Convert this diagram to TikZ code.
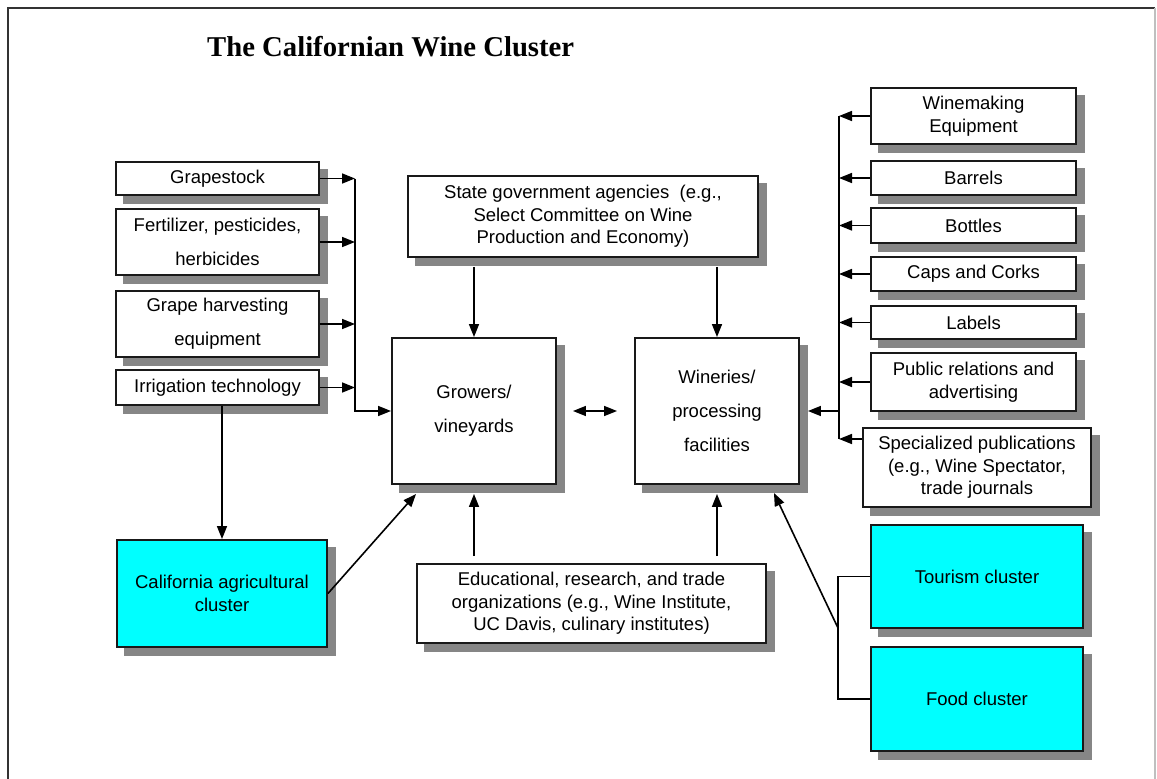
\documentclass[tikz,border=0pt]{standalone}
\usepackage{fontspec}
\setmainfont{Liberation Sans}
\newfontfamily\titlefont{Liberation Serif}
\usetikzlibrary{arrows.meta,calc,backgrounds}
\definecolor{shdw}{HTML}{868686}
\definecolor{clustercyan}{HTML}{00FFFF}
\begin{document}
\begin{tikzpicture}[x=1pt,y=-1pt,
  box/.style={draw=black!90, line width=1.9pt, fill=white, inner sep=0pt,
    align=center, font=\fontsize{18.5}{22.5}\selectfont},
  wide/.style={font=\fontsize{18.5}{34}\selectfont},
  cluster/.style={box, fill=clustercyan},
  link/.style={line width=1.6pt, black},
  arr/.style={link, -{Triangle[length=13pt,width=10pt]}},
  darr/.style={link, {Triangle[length=13pt,width=10pt]}-{Triangle[length=13pt,width=10pt]}},
]
\useasboundingbox (0,0) rectangle (1157,779);

% page frame
\draw[line width=2.2pt, black!80] (8,779) -- (8,8) -- (1155,8);
\draw[line width=1.5pt, black!25] (1155,8) -- (1155,779);

% title
\node[anchor=base west, inner sep=0pt,
  font=\titlefont\bfseries\fontsize{28.7}{30}\selectfont] (title) at (207,56)
  {The Californian Wine Cluster};

% supplier boxes on the growers' side
\node[box, minimum width=203pt, minimum height=33pt] (grape) at (217.5,178.5) {Grapestock};
\node[box, wide, minimum width=203pt, minimum height=66pt] (fert) at (217.5,242) {Fertilizer, pesticides,\\herbicides};
\node[box, wide, minimum width=203pt, minimum height=66pt] (harv) at (217.5,324) {Grape harvesting\\equipment};
\node[box, minimum width=203pt, minimum height=35pt] (irr) at (217.5,387.5) {Irrigation technology};

% core of the cluster
\node[box, minimum width=350pt, minimum height=81pt] (state) at (583,216.5)
  {State government agencies \ (e.g.,\\Select Committee on Wine\\Production and Economy)};
\node[box, wide, minimum width=164pt, minimum height=146pt] (growers) at (474,411) {Growers/\\vineyards};
\node[box, wide, minimum width=164pt, minimum height=146pt] (wineries) at (717,411) {Wineries/\\processing\\facilities};

% supplier boxes on the wineries' side
\node[box, minimum width=205pt, minimum height=56pt] (wm) at (973.5,116) {Winemaking\\Equipment};
\node[box, minimum width=205pt, minimum height=34pt] (bar) at (973.5,178) {Barrels};
\node[box, minimum width=205pt, minimum height=35pt] (bot) at (973.5,225.5) {Bottles};
\node[box, minimum width=205pt, minimum height=34pt] (caps) at (973.5,274) {Caps and Corks};
\node[box, minimum width=205pt, minimum height=33pt] (lab) at (973.5,322.5) {Labels};
\node[box, minimum width=205pt, minimum height=58pt] (pr) at (973.5,382) {Public relations and\\advertising};
\node[box, minimum width=228pt, minimum height=79pt] (spec) at (977,467.5)
  {Specialized publications\\(e.g., Wine Spectator,\\trade journals};

% institutions and related clusters
\node[cluster, minimum width=210pt, minimum height=107pt] (agri) at (222,593.5) {California agricultural\\cluster};
\node[box, minimum width=349pt, minimum height=79pt] (edu) at (591.5,603.5)
  {Educational, research, and trade\\organizations (e.g., Wine Institute,\\UC Davis, culinary institutes)};
\node[cluster, minimum width=212pt, minimum height=103pt] (tourism) at (977,576.5) {Tourism cluster};
\node[cluster, minimum width=212pt, minimum height=104pt] (food) at (977,699) {Food cluster};

% drop shadows behind every box
\begin{scope}[on background layer]
  \foreach \n in {grape,fert,harv,irr,state,growers,wineries,wm,bar,bot,caps,lab,pr,spec,agri,edu,tourism,food}
    \fill[shdw] ($(\n.south west)+(8,8)$) rectangle ($(\n.north east)+(8,8)$);
\end{scope}

% left supplier bus into growers
\coordinate (lbus) at (355,178.5);
\draw[arr] (grape.east) -- (lbus);
\draw[arr] (lbus) |- (growers.west);
\foreach \n in {fert,harv,irr}
  \draw[arr] (\n.east) -- (\n.east -| lbus);

\draw[arr] (agri.north |- irr.south) -- (agri.north);
\draw[arr] (agri.east) -- ($(growers.south west)+(25,9)$);

% government and institutions
\draw[arr] ($(state.south -| growers.north)+(0,9)$) -- (growers.north);
\draw[arr] ($(state.south -| wineries.north)+(0,9)$) -- (wineries.north);
\draw[arr] ($(edu.north -| growers.south)+(0,-7)$) -- ($(growers.south)+(0,9)$);
\draw[arr] ($(edu.north -| wineries.south)+(0,-7)$) -- ($(wineries.south)+(0,9)$);

\draw[darr] ($(growers.east)+(16,0)$) -- ($(wineries.west)+(-17,0)$);

% right supplier bus into wineries
\coordinate (rbus) at (839,116);
\foreach \n in {wm,bar,bot,caps,lab,pr}
  \draw[arr] (\n.west) -- (\n.west -| rbus);
\coordinate (spk) at ($(spec.west)+(0,-28.5)$);
\draw[arr] (spk) -- (spk -| rbus);
\draw[link] (wm.west -| rbus) -- (spk -| rbus);
\draw[arr] (wineries.east -| rbus) -- ($(wineries.east)+(8,0)$);

% related clusters bracket
\coordinate (brk) at (838,628);
\draw[line width=1.2pt] (tourism.west) -| (brk) |- (food.west);
\draw[arr] (brk) -- ($(wineries.south east)+(-26,8)$);
\end{tikzpicture}
\end{document}
